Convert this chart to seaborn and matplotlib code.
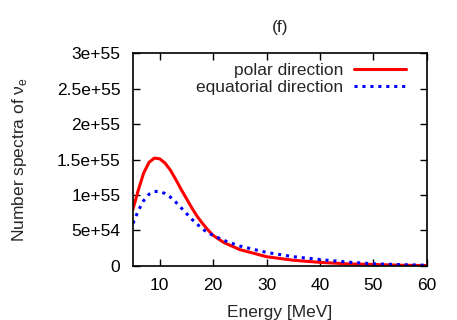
import numpy as np
import pandas as pd
import matplotlib
matplotlib.use("Agg")
import matplotlib.pyplot as plt
import matplotlib.ticker as mticker
import seaborn as sns

# data (units of 1e55)
energy = [5, 6, 7, 8, 9, 10, 11, 12, 13, 14, 15, 16, 17, 18, 19, 20,
          22, 25, 30, 35, 40, 45, 50, 55, 60]
polar = [0.80, 1.07, 1.31, 1.46, 1.52, 1.51, 1.45, 1.35, 1.22, 1.08, 0.95,
         0.82, 0.70, 0.60, 0.51, 0.43, 0.33, 0.23, 0.13, 0.08, 0.05, 0.03,
         0.02, 0.01, 0.005]
equatorial = [0.60, 0.78, 0.92, 1.01, 1.05, 1.05, 1.02, 0.97, 0.90, 0.82,
              0.74, 0.66, 0.59, 0.52, 0.47, 0.43, 0.36, 0.28, 0.19, 0.13,
              0.09, 0.055, 0.03, 0.018, 0.01]
series_names = ["polar direction", "equatorial direction"]
xticks = [10, 20, 30, 40, 50, 60]
yticks = [0, 0.5e55, 1e55, 1.5e55, 2e55, 2.5e55, 3e55]
ytick_labels = ["0", "5e+54", "1e+55", "1.5e+55", "2e+55", "2.5e+55", "3e+55"]

df = pd.DataFrame({
    "Energy": energy * 2,
    "Spectrum": [v * 1e55 for v in polar] + [v * 1e55 for v in equatorial],
    "Series": [series_names[0]] * len(energy) + [series_names[1]] * len(energy),
})

sns.set_style("ticks")
plt.rcParams["font.family"] = ["Liberation Sans", "DejaVu Sans"]
plt.rcParams["mathtext.fontset"] = "custom"
plt.rcParams["mathtext.rm"] = "Liberation Sans"
fs = 12.5

fig = plt.figure(figsize=(4.57, 3.2), dpi=100)
ax = fig.add_axes([0.291, 0.169, 0.643, 0.665])

sns.lineplot(data=df, x="Energy", y="Spectrum", hue="Series", style="Series",
             palette=["#ff0000", "#0000ff"], dashes=[(None, None), (1, 1.6)],
             linewidth=2.2, ax=ax, legend=True)

ax.set_xlim(5, 60)
ax.set_ylim(0, 3e55)
ax.set_xticks(xticks)
ax.set_yticks(yticks)
ax.yaxis.set_major_formatter(mticker.FixedFormatter(ytick_labels))
ax.tick_params(direction="in", top=True, right=True, length=5, width=1,
               labelsize=fs, colors="black", pad=9)
for s in ax.spines.values():
    s.set_linewidth(1.2)
    s.set_color("black")

ax.set_xlabel("Energy [MeV]", fontsize=fs, labelpad=8)
ax.set_ylabel(r"Number spectra of ν$_\mathrm{e}$", fontsize=fs, labelpad=20)
ax.set_title("(f)", fontsize=fs, pad=15)

leg = ax.legend(loc="upper right", bbox_to_anchor=(0.94, 0.97),
                frameon=False, markerfirst=False, fontsize=fs,
                handlelength=3.0, borderaxespad=0.0, borderpad=0.2,
                labelspacing=0.12, handletextpad=0.6)
for line in leg.get_lines():
    line.set_linewidth(2.2)

fig.savefig("out.png", dpi=100)
